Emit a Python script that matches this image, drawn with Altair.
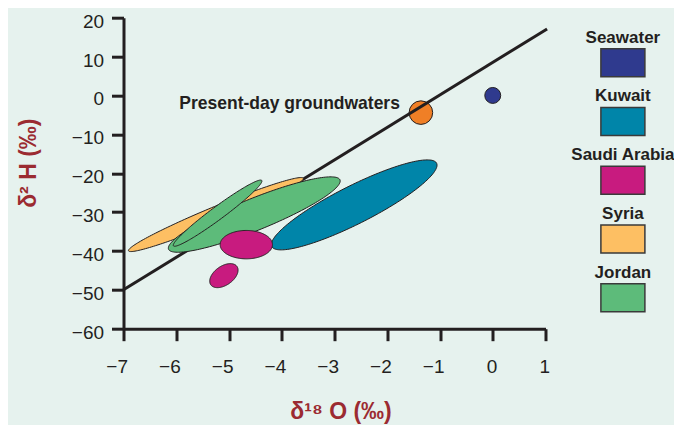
import math
import altair as alt
import pandas as pd

# ---------------- data ----------------
# meteoric water line (d18O, d2H)
line_x = [-7.0, 1.03]
line_y = [-50.0, 17.1]

# ellipse fields: name, centre (d18O, d2H), semi-axis vectors u (major) and v (minor) in data units
ell_id = ["syria", "jordan_big", "jordan_thin", "kuwait", "saudi_big", "saudi_small"]
ell_name = ["Syria", "Jordan", "Jordan", "Kuwait", "Saudi Arabia", "Saudi Arabia"]
ell_cx = [-5.248, -4.521, -5.216, -2.627, -4.672, -5.097]
ell_cy = [-30.64, -30.64, -30.28, -28.15, -38.38, -46.35]
ell_ux = [1.657, 1.625, 0.837, 1.5625, 0.496, 0.248]
ell_uy = [9.33, 8.92, 8.41, 10.72, 0.0, 2.36]
ell_vx = [0.058, 0.114, 0.073, 0.162, 0.0, 0.103]
ell_vy = [-1.90, -3.81, -1.34, -4.36, -3.65, -2.00]

# single samples
seawater_x, seawater_y = [0.0], [0.0]
present_x, present_y = [-1.362], [-4.42]
annot_text = ["Present-day groundwaters"]
annot_x, annot_y = [-1.76], [-3.55]

legend_names = ["Seawater", "Kuwait", "Saudi Arabia", "Syria", "Jordan"]
legend_colors = ["#2f3a8e", "#0085a9", "#c81b7f", "#fdbf63", "#5dbb7a"]

x_ticks = [-7, -6, -5, -4, -3, -2, -1, 0, 1]
y_ticks = [-60, -50, -40, -30, -20, -10, 0, 10, 20]

INK = "#231f20"
RED = "#9b2b31"
FONT = "Liberation Sans"

# ---------------- ellipse outlines (upper / lower edge for each x) ----------------
def ellipse_rows(i, n=90):
    cx, cy = ell_cx[i], ell_cy[i]
    ux, uy, vx, vy = ell_ux[i], ell_uy[i], ell_vx[i], ell_vy[i]
    det = ux * vy - vx * uy
    a11, a12 = vy / det, -vx / det
    a21, a22 = -uy / det, ux / det
    hx = math.sqrt(ux * ux + vx * vx)
    rows = []
    for k in range(n):
        s = math.pi - math.pi * k / (n - 1)
        dx = hx * math.cos(s)
        A = a12 ** 2 + a22 ** 2
        B = 2 * (a11 * a12 + a21 * a22) * dx
        C = (a11 ** 2 + a21 ** 2) * dx * dx - 1
        disc = max(B * B - 4 * A * C, 0.0)
        r1 = (-B + math.sqrt(disc)) / (2 * A)
        r2 = (-B - math.sqrt(disc)) / (2 * A)
        rows.append({"id": ell_id[i], "name": ell_name[i], "x": cx + dx,
                     "yhi": cy + max(r1, r2), "ylo": cy + min(r1, r2)})
    return rows

ell_rows = []
for i in range(len(ell_id)):
    ell_rows += ellipse_rows(i)
ell_df = pd.DataFrame(ell_rows)

line_df = pd.DataFrame({"x": line_x, "y": line_y})
sea_df = pd.DataFrame({"x": seawater_x, "y": seawater_y, "name": ["Seawater"]})
pres_df = pd.DataFrame({"x": present_x, "y": present_y})
annot_df = pd.DataFrame({"x": annot_x, "y": annot_y, "t": annot_text})
leg_df = pd.DataFrame({"name": legend_names})

# ---------------- scales ----------------
xs = alt.Scale(domain=[-7, 1], nice=False, zero=False)
ys = alt.Scale(domain=[-60, 20], nice=False, zero=False)
cs = alt.Scale(domain=legend_names, range=legend_colors)

x_axis = alt.Axis(values=x_ticks, title="δ¹⁸ O (‰)", labelAlign="right", labelOffset=4,
                  labelPadding=17, labelFlush=False, labelOverlap=False,
                  titleX=217, titleY=90, titleBaseline="alphabetic")
y_axis = alt.Axis(values=y_ticks, title="δ² H (‰)", labelPadding=8, labelOffset=3.5,
                  labelFlush=False, labelOverlap=False,
                  titleX=-95, titleY=145, titleBaseline="middle", titleAngle=-90)

X = alt.X("x:Q", scale=xs, axis=x_axis)
Y = alt.Y("y:Q", scale=ys, axis=y_axis)

present = alt.Chart(pres_df).mark_point(shape="circle", filled=True, size=556, opacity=1,
                                        fill="#f07f26", stroke=INK, strokeWidth=1).encode(x=X, y=Y)

mwl = alt.Chart(line_df).mark_line(color=INK, strokeWidth=3).encode(x=X, y=Y)

ellipse_layers = []
for eid in ell_id:
    ellipse_layers.append(
        alt.Chart(ell_df).transform_filter(alt.datum.id == eid)
        .mark_area(opacity=1, stroke=INK, strokeWidth=1)
        .encode(x=X, y=alt.Y("yhi:Q", scale=ys, axis=y_axis), y2="ylo:Q",
                color=alt.Color("name:N", scale=cs, legend=None))
    )

sea = alt.Chart(sea_df).mark_point(shape="circle", filled=True, size=254, opacity=1,
                                   stroke=INK, strokeWidth=1).encode(
    x=X, y=Y, color=alt.Color("name:N", scale=cs, legend=None))

annot = alt.Chart(annot_df).mark_text(align="right", baseline="alphabetic", font=FONT,
                                      fontSize=17.5, fontWeight="bold", color=INK).encode(
    x=X, y=Y, text="t:N")

main = alt.layer(present, mwl, *ellipse_layers, sea, annot)

ly = alt.Y("name:N", sort=legend_names,
           scale=alt.Scale(type="point", domain=legend_names, range=[45, 280], padding=0),
           axis=None)
leg_swatch = alt.Chart(leg_df).mark_point(
    shape="M-1,-0.636L1,-0.636L1,0.636L-1,0.636Z", size=1936, filled=True, opacity=1,
    stroke="#3a3a3a", strokeWidth=1.5).encode(
    x=alt.value(499.4), y=ly, color=alt.Color("name:N", scale=cs, legend=None))
leg_text = alt.Chart(leg_df).mark_text(dy=-20, align="center", baseline="alphabetic",
                                       font=FONT, fontSize=17, fontWeight="bold",
                                       color=INK).encode(
    x=alt.value(499.4), y=ly, text="name:N")
legend = alt.layer(leg_swatch, leg_text)

chart = alt.layer(main, legend).resolve_scale(y="independent").properties(
    width=422, height=311,
    autosize=alt.AutoSizeParams(type="none"),
    padding={"left": 115.5, "top": 9.7, "right": 128, "bottom": 96},
    background="#e6f2ee",
).configure_view(stroke=None).configure_axis(
    grid=False, domainColor=INK, domainWidth=3, tickColor=INK, tickWidth=3, tickSize=12,
    labelFont=FONT, labelFontSize=19, labelColor=INK,
    titleFont=FONT, titleFontSize=23, titleFontWeight="bold", titleColor=RED,
)

chart.save("out.html", embed_options={"renderer": "svg", "actions": False})
